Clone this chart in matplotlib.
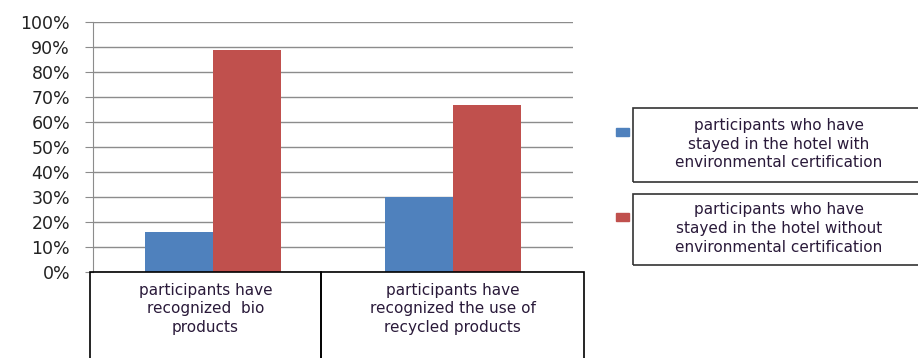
import numpy as np
import matplotlib
matplotlib.use("Agg")
from matplotlib import pyplot as plt
from matplotlib.patches import Rectangle

categories = ["participants have\nrecognized  bio\nproducts",
              "participants have\nrecognized the use of\nrecycled products"]
series_names = ["participants who have\nstayed in the hotel with\nenvironmental certification",
                "participants who have\nstayed in the hotel without\nenvironmental certification"]
with_cert = [16, 30]
without_cert = [89, 67]
colors = ["#4F81BD", "#C0504D"]

W, H = 918, 358
fig = plt.figure(figsize=(W / 100, H / 100), dpi=100)

def fx(px):
    return px / W

def fy(py):
    return 1 - py / H

ax = fig.add_axes([fx(93), fy(272), fx(573) - fx(93), fy(22) - fy(272)])

x = np.arange(len(categories))
bw = 0.283
ax.bar(x - bw / 2, with_cert, bw, color=colors[0], zorder=3)
ax.bar(x + bw / 2, without_cert, bw, color=colors[1], zorder=3)

ax.set_xlim(-0.5, len(categories) - 0.5)
ax.set_ylim(0, 100)
ax.set_yticks(np.arange(0, 101, 10))
ax.set_yticklabels([f"{v}%" for v in range(0, 101, 10)], fontsize=12.5,
                   family="DejaVu Sans", color="#222222")
ax.yaxis.grid(True, color="#8c8c8c", linewidth=1.0, zorder=0)
ax.tick_params(axis="y", length=6, color="#8c8c8c", pad=10.5)
ax.set_xticks([])
for s in ["top", "right", "bottom"]:
    ax.spines[s].set_visible(False)
ax.spines["left"].set_color("#8c8c8c")

# category boxes under the axis
edges = [90, 321, 584]
for i, cat in enumerate(categories):
    fig.add_artist(Rectangle((fx(edges[i]), fy(400)), fx(edges[i + 1]) - fx(edges[i]),
                             fy(272) - fy(400), transform=fig.transFigure,
                             fill=False, edgecolor="black", linewidth=1.2))
    fig.text(fx((edges[i] + edges[i + 1]) / 2), fy(309), cat, ha="center", va="center",
             fontsize=11, color="#2a1a3a", linespacing=1.3)

# legend as boxed entries
boxes = [(108, 182), (194, 265)]
for i, name in enumerate(series_names):
    top, bottom = boxes[i]
    fig.add_artist(Rectangle((fx(633), fy(bottom)), fx(930) - fx(633), fy(top) - fy(bottom),
                             transform=fig.transFigure, fill=False,
                             edgecolor="#333333", linewidth=1.2))
    mid = (top + bottom) / 2
    fig.add_artist(Rectangle((fx(616), fy(mid - 9)), fx(629) - fx(616), fy(mid - 17) - fy(mid - 9),
                             transform=fig.transFigure, color=colors[i]))
    fig.text(fx(779), fy(mid - 1), name, ha="center", va="center",
             fontsize=11, color="#2a1a3a", linespacing=1.3)

fig.savefig("out.png", dpi=100)
